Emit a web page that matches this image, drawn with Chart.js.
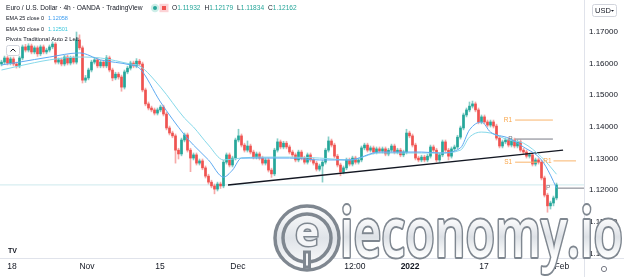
<!DOCTYPE html>
<html><head><meta charset="utf-8">
<script src="https://cdn.jsdelivr.net/npm/chart.js@4/dist/chart.umd.min.js"></script>
<style>html,body{margin:0;padding:0;background:#fff;overflow:hidden}canvas{display:block}</style>
</head><body>
<canvas id="c" width="624" height="277"></canvas>
<script>
// ---- data (EUR/USD 4h, candles indexed left to right) ----
const opens=[1.1598,1.1604,1.1617,1.1601,1.1614,1.1598,1.1592,1.1617,1.1652,1.1642,
1.1655,1.1636,1.1649,1.1630,1.1652,1.1636,1.1642,1.1652,1.1661,1.1604,
1.1611,1.1598,1.1620,1.1601,1.1617,1.1604,1.1674,1.1649,1.1547,1.1554,
1.1579,1.1604,1.1611,1.1592,1.1604,1.1592,1.1617,1.1579,1.1554,1.1566,
1.1557,1.1525,1.1573,1.1585,1.1601,1.1592,1.1607,1.1598,1.1516,1.1472,
1.1459,1.1453,1.1443,1.1453,1.1462,1.1440,1.1396,1.1380,1.1371,1.1326,
1.1314,1.1358,1.1374,1.1326,1.1301,1.1311,1.1285,1.1292,1.1270,1.1244,
1.1225,1.1213,1.1203,1.1219,1.1213,1.1288,1.1311,1.1279,1.1301,1.1358,
1.1371,1.1342,1.1326,1.1339,1.1320,1.1304,1.1314,1.1301,1.1285,1.1295,
1.1263,1.1251,1.1326,1.1352,1.1336,1.1348,1.1336,1.1320,1.1311,1.1295,
1.1320,1.1301,1.1288,1.1311,1.1295,1.1285,1.1266,1.1276,1.1288,1.1326,
1.1355,1.1342,1.1307,1.1279,1.1257,1.1270,1.1295,1.1282,1.1301,1.1288,
1.1295,1.1333,1.1342,1.1326,1.1333,1.1320,1.1330,1.1323,1.1330,1.1314,
1.1326,1.1339,1.1320,1.1326,1.1311,1.1320,1.1380,1.1371,1.1342,1.1301,
1.1295,1.1304,1.1295,1.1307,1.1336,1.1326,1.1295,1.1311,1.1352,1.1326,
1.1307,1.1330,1.1336,1.1367,1.1396,1.1437,1.1453,1.1465,1.1472,1.1453,
1.1415,1.1431,1.1415,1.1405,1.1415,1.1402,1.1364,1.1339,1.1352,1.1358,
1.1342,1.1358,1.1339,1.1352,1.1326,1.1320,1.1307,1.1311,1.1282,1.1295,
1.1288,1.1238,1.1184,1.1150,1.1159,1.1175];
const highs=[1.1610,1.1623,1.1623,1.1620,1.1620,1.1604,1.1623,1.1658,1.1660,1.1662,
1.1661,1.1655,1.1655,1.1658,1.1658,1.1648,1.1658,1.1668,1.1666,1.1617,
1.1617,1.1626,1.1626,1.1623,1.1623,1.1699,1.1690,1.1655,1.1562,1.1585,
1.1610,1.1617,1.1617,1.1610,1.1610,1.1625,1.1623,1.1585,1.1572,1.1572,
1.1563,1.1579,1.1591,1.1607,1.1607,1.1615,1.1613,1.1604,1.1522,1.1478,
1.1465,1.1459,1.1459,1.1468,1.1468,1.1446,1.1402,1.1386,1.1377,1.1332,
1.1364,1.1380,1.1380,1.1332,1.1317,1.1317,1.1298,1.1298,1.1276,1.1250,
1.1231,1.1219,1.1225,1.1225,1.1294,1.1317,1.1317,1.1307,1.1364,1.1392,
1.1377,1.1348,1.1355,1.1345,1.1326,1.1320,1.1320,1.1307,1.1301,1.1301,
1.1269,1.1332,1.1362,1.1358,1.1354,1.1354,1.1342,1.1326,1.1317,1.1326,
1.1326,1.1307,1.1317,1.1317,1.1301,1.1291,1.1282,1.1294,1.1332,1.1368,
1.1361,1.1348,1.1313,1.1285,1.1276,1.1301,1.1301,1.1307,1.1307,1.1301,
1.1339,1.1348,1.1348,1.1339,1.1339,1.1336,1.1336,1.1336,1.1336,1.1332,
1.1345,1.1345,1.1332,1.1332,1.1326,1.1392,1.1386,1.1377,1.1348,1.1307,
1.1310,1.1310,1.1313,1.1342,1.1342,1.1332,1.1317,1.1358,1.1358,1.1332,
1.1336,1.1342,1.1373,1.1402,1.1443,1.1459,1.1478,1.1481,1.1478,1.1459,
1.1437,1.1437,1.1421,1.1421,1.1421,1.1408,1.1370,1.1358,1.1364,1.1364,
1.1364,1.1364,1.1358,1.1358,1.1332,1.1326,1.1317,1.1317,1.1301,1.1301,
1.1294,1.1244,1.1190,1.1165,1.1181,1.1222];
const lows=[1.1592,1.1598,1.1595,1.1595,1.1592,1.1585,1.1586,1.1611,1.1636,1.1636,
1.1630,1.1630,1.1622,1.1624,1.1630,1.1630,1.1636,1.1646,1.1598,1.1598,
1.1592,1.1592,1.1595,1.1595,1.1598,1.1598,1.1643,1.1538,1.1540,1.1548,
1.1573,1.1598,1.1586,1.1586,1.1586,1.1586,1.1573,1.1545,1.1548,1.1550,
1.1512,1.1519,1.1567,1.1579,1.1586,1.1586,1.1592,1.1510,1.1466,1.1453,
1.1447,1.1437,1.1437,1.1447,1.1434,1.1390,1.1374,1.1365,1.1285,1.1298,
1.1308,1.1352,1.1320,1.1258,1.1295,1.1279,1.1279,1.1264,1.1238,1.1219,
1.1207,1.1188,1.1197,1.1205,1.1207,1.1282,1.1273,1.1273,1.1295,1.1352,
1.1336,1.1320,1.1320,1.1314,1.1298,1.1298,1.1295,1.1279,1.1279,1.1257,
1.1240,1.1245,1.1320,1.1330,1.1330,1.1330,1.1314,1.1305,1.1289,1.1289,
1.1295,1.1282,1.1282,1.1289,1.1279,1.1260,1.1260,1.1225,1.1282,1.1320,
1.1336,1.1301,1.1273,1.1245,1.1251,1.1264,1.1276,1.1276,1.1282,1.1282,
1.1289,1.1327,1.1320,1.1320,1.1314,1.1314,1.1317,1.1317,1.1308,1.1308,
1.1320,1.1314,1.1314,1.1305,1.1305,1.1314,1.1365,1.1336,1.1295,1.1289,
1.1289,1.1289,1.1289,1.1301,1.1320,1.1289,1.1289,1.1305,1.1320,1.1295,
1.1301,1.1324,1.1330,1.1361,1.1390,1.1431,1.1447,1.1459,1.1447,1.1409,
1.1409,1.1409,1.1399,1.1399,1.1396,1.1358,1.1333,1.1333,1.1346,1.1336,
1.1336,1.1333,1.1333,1.1320,1.1314,1.1301,1.1301,1.1276,1.1276,1.1282,
1.1232,1.1178,1.1130,1.1140,1.1150,1.1169];
const closes=[1.1604,1.1617,1.1601,1.1614,1.1598,1.1592,1.1617,1.1652,1.1642,1.1655,
1.1636,1.1649,1.1630,1.1652,1.1636,1.1642,1.1652,1.1661,1.1604,1.1611,
1.1598,1.1620,1.1601,1.1617,1.1604,1.1674,1.1649,1.1547,1.1554,1.1579,
1.1604,1.1611,1.1592,1.1604,1.1592,1.1617,1.1579,1.1554,1.1566,1.1557,
1.1525,1.1573,1.1585,1.1601,1.1592,1.1607,1.1598,1.1516,1.1472,1.1459,
1.1453,1.1443,1.1453,1.1462,1.1440,1.1396,1.1380,1.1371,1.1326,1.1314,
1.1358,1.1374,1.1326,1.1301,1.1311,1.1285,1.1292,1.1270,1.1244,1.1225,
1.1213,1.1203,1.1219,1.1213,1.1288,1.1311,1.1279,1.1301,1.1358,1.1371,
1.1342,1.1326,1.1339,1.1320,1.1304,1.1314,1.1301,1.1285,1.1295,1.1263,
1.1251,1.1326,1.1352,1.1336,1.1348,1.1336,1.1320,1.1311,1.1295,1.1320,
1.1301,1.1288,1.1311,1.1295,1.1285,1.1266,1.1276,1.1288,1.1326,1.1355,
1.1342,1.1307,1.1279,1.1257,1.1270,1.1295,1.1282,1.1301,1.1288,1.1295,
1.1333,1.1342,1.1326,1.1333,1.1320,1.1330,1.1323,1.1330,1.1314,1.1326,
1.1339,1.1320,1.1326,1.1311,1.1320,1.1380,1.1371,1.1342,1.1301,1.1295,
1.1304,1.1295,1.1307,1.1336,1.1326,1.1295,1.1311,1.1352,1.1326,1.1307,
1.1330,1.1336,1.1367,1.1396,1.1437,1.1453,1.1465,1.1472,1.1453,1.1415,
1.1431,1.1415,1.1405,1.1415,1.1402,1.1364,1.1339,1.1352,1.1358,1.1342,
1.1358,1.1339,1.1352,1.1326,1.1320,1.1307,1.1311,1.1282,1.1295,1.1288,
1.1238,1.1184,1.1150,1.1159,1.1175,1.1216];

const emaIdx=[0,6,16,26,33,43,46,53,61,64,69,74,77,80,86,96,106,116,126,140,146,153,156,160,163,169,174,180,183,185];
const ema25=[1.1595,1.1604,1.1620,1.1633,1.1611,1.1595,1.1585,1.1478,1.1374,1.1342,1.1295,1.1241,1.1263,1.1301,1.1301,1.1301,1.1295,1.1295,1.1320,1.1320,1.1317,1.1333,1.1390,1.1415,1.1383,1.1364,1.1336,1.1295,1.1247,1.1206];
const ema50=[1.1579,1.1592,1.1611,1.1620,1.1617,1.1598,1.1592,1.1525,1.1427,1.1399,1.1342,1.1295,1.1298,1.1301,1.1304,1.1304,1.1301,1.1295,1.1317,1.1317,1.1317,1.1326,1.1367,1.1383,1.1380,1.1358,1.1348,1.1304,1.1273,1.1250];

const trendIdx=[75.5,187.2];
const trendVals=[1.1216,1.1326];

const pivotNames=['R1','P','S1','R1','P'];
const pivotLevels=[1.1421,1.1361,1.1288,1.1292,1.1206];
const pivotFrom=[171.2,171.2,171.2,184.0,185.5];
const pivotTo=[183.8,183.8,178.5,191.5,194.2];
const pivotLabelAt=[168.8,169.6,168.9,182.0,182.2];

const lastPrice=1.12162;
const xTickPos=[3.5,28.5,52.8,78.8,117.8,136.2,160.8,186.8];
const xTickLabels=['18','Nov','15','Dec','12:00','2022','17','Feb'];
const yTicks=[1.10,1.11,1.12,1.13,1.14,1.15,1.16,1.17];

// ---- chart ----
const UP='#26a69a', DN='#ef5350';
const N=closes.length, idx=[...Array(N).keys()];
const isUp=i=>closes[i]>=opens[i];
const FONT='"Liberation Sans", Arial, sans-serif';
Chart.defaults.font.family=FONT;

const pivotSets=pivotNames.map((n,k)=>({
  type:'line', data:[{x:pivotFrom[k],y:pivotLevels[k]},{x:pivotTo[k],y:pivotLevels[k]}],
  borderColor:n==='P'?'#787b86':'#f9b46c', borderWidth:1, pointRadius:0, order:0
}));

const bg={id:'bg',beforeDraw(ch){const c=ch.ctx;c.save();c.fillStyle='#fff';c.fillRect(0,0,ch.width,ch.height);c.restore();}};

const deco={id:'deco',afterDatasetsDraw(ch){
  const c=ch.ctx, xs=ch.scales.x, ys=ch.scales.y;
  c.save();
  c.font='6.5px '+FONT; c.textAlign='center'; c.textBaseline='middle';
  pivotNames.forEach((n,k)=>{c.fillStyle=n==='P'?'#787b86':'#f9a64a';
    c.fillText(n,xs.getPixelForValue(pivotLabelAt[k]),ys.getPixelForValue(pivotLevels[k]));});
  c.strokeStyle='#e0e3eb'; c.lineWidth=1;
  c.beginPath(); c.moveTo(584.5,0); c.lineTo(584.5,277); c.moveTo(0,258.5); c.lineTo(624,258.5); c.stroke();
  c.textAlign='left'; c.textBaseline='middle';
  const fit=(t,x,y,w,col,weight)=>{c.font=(weight||'')+' 10px '+FONT;const m=c.measureText(t).width;c.font=(weight||'')+' '+(10*w/m).toFixed(2)+'px '+FONT;c.fillStyle=col;c.fillText(t,x,y);return c.measureText(t).width;};
  fit('Euro / U.S. Dollar · 4h · OANDA · TradingView',6,8,137,'#131722');
  c.fillStyle='#cdeee8'; c.beginPath(); c.arc(155,8,4.2,0,7); c.fill();
  c.fillStyle=UP; c.beginPath(); c.arc(155,8,2,0,7); c.fill();
  c.fillStyle='#fcd3d6'; c.fillRect(159.5,3.8,9,8.4);
  c.fillStyle=DN; c.fillRect(162,6,4,4);
  c.font='6.6px '+FONT; let x=172;
  [['O','1.11932'],['H','1.12179'],['L','1.11834'],['C','1.12162']].forEach(([a,b])=>{
    c.fillStyle='#131722'; c.fillText(a,x,8); x+=c.measureText(a).width;
    c.fillStyle=UP; c.fillText(b,x,8); x+=c.measureText(b).width+4;});
  fit('EMA 25 close 0',6,18.5,38,'#131722');
  fit('1.12058',48,18.5,20,'#3d9df0');
  fit('EMA 50 close 0',6,29,38,'#131722');
  fit('1.12501',48,29,20,'#3cc7dc');
  fit('Pivots Traditional Auto 2 Left',6,39.5,73,'#131722');
  c.fillStyle='rgba(255,255,255,0.9)'; c.strokeStyle='#d1d4dc'; c.lineWidth=1;
  c.beginPath(); c.roundRect(6.5,45.5,13,10,2); c.fill(); c.stroke();
  c.strokeStyle='#131722'; c.beginPath(); c.moveTo(10.5,51.5); c.lineTo(13,49); c.lineTo(15.5,51.5); c.stroke();
  c.fillStyle='#fff'; c.strokeStyle='#d1d4dc';
  c.beginPath(); c.roundRect(592.5,4.5,24,12,2); c.fill(); c.stroke();
  c.font='7.5px '+FONT; c.fillStyle='#131722'; c.fillText('USD',595,10.8);
  c.beginPath(); c.moveTo(611,10); c.lineTo(614,10); c.lineTo(612.5,11.8); c.closePath(); c.fill();
  c.font='bold 7px '+FONT; c.fillStyle='#131722'; c.fillText('TV',8,251);
  c.strokeStyle='#787b86'; c.lineWidth=1; c.beginPath(); c.arc(604,269,2.6,0,7); c.stroke();
  c.restore();
}};

const wm={id:'wm',afterDraw(ch){
  const c=ch.ctx; c.save();
  const cx=307, cy=238;
  const g=c.createLinearGradient(0,cy-33,0,cy+33);
  g.addColorStop(0,'#ffffff'); g.addColorStop(0.5,'#dfe3e8'); g.addColorStop(1,'#ffffff');
  c.lineWidth=3.5; c.strokeStyle='#7f8790'; c.fillStyle=g;
  c.beginPath(); c.arc(cx,cy,32,0,7); c.fill(); c.stroke();
  c.beginPath(); c.arc(cx,cy,24,0,7); c.stroke();
  c.font='bold 40px "Open Sans", '+FONT; c.textAlign='center'; c.textBaseline='middle';
  c.lineWidth=3; c.strokeText('e',cx,cy-3); c.fillStyle='#f4f5f7'; c.fillText('e',cx,cy-3);
  c.fillRect(cx-2.5,cy+14,5,15); c.strokeRect(cx-2.5,cy+14,5,15);
  c.textAlign='left'; c.textBaseline='alphabetic';
  c.font='600 68px "Open Sans", '+FONT;
  const t='ieconomy.io', w=c.measureText(t).width;
  c.translate(340,257); c.scale(283/w,1);
  const g2=c.createLinearGradient(0,-40,0,0);
  g2.addColorStop(0,'#ffffff'); g2.addColorStop(0.5,'#dde1e6'); g2.addColorStop(1,'#ffffff');
  c.lineWidth=4; c.strokeStyle='#7f8790'; c.lineJoin='round'; c.strokeText(t,0,0);
  c.fillStyle=g2; c.fillText(t,0,0);
  c.restore();
}};

new Chart(document.getElementById('c'),{
  type:'bar',
  data:{datasets:[
    {type:'line',data:emaIdx.map((x,k)=>({x,y:ema25[k]})),borderColor:'#5eaaf2',borderWidth:1,pointRadius:0,cubicInterpolationMode:'monotone',order:0},
    {type:'line',data:emaIdx.map((x,k)=>({x,y:ema50[k]})),borderColor:'#86d9ea',borderWidth:1,pointRadius:0,cubicInterpolationMode:'monotone',order:0},
    {type:'line',data:trendIdx.map((x,k)=>({x,y:trendVals[k]})),borderColor:'#131722',borderWidth:1.4,pointRadius:0,order:0},
    ...pivotSets,
    {type:'bar',data:idx.map(i=>({x:i,y:[opens[i],closes[i]]})),backgroundColor:idx.map(i=>isUp(i)?UP:DN),
      barThickness:2,grouped:false,minBarLength:1,borderWidth:0,order:1},
    {type:'bar',data:idx.map(i=>({x:i,y:[lows[i],highs[i]]})),backgroundColor:idx.map(i=>isUp(i)?'rgba(38,166,154,0.55)':'rgba(239,83,80,0.5)'),
      barThickness:1,grouped:false,borderWidth:0,order:2},
    {type:'line',data:[{x:-0.5,y:lastPrice},{x:194.2,y:lastPrice}],borderColor:'#cde9ed',borderWidth:1,pointRadius:0,order:3}
  ]},
  options:{
    responsive:false,devicePixelRatio:1,animation:false,
    layout:{padding:0},
    plugins:{legend:{display:false},tooltip:{enabled:false}},
    scales:{
      x:{type:'linear',min:-0.5,max:194.167,offset:false,
        grid:{display:false,drawTicks:false},border:{display:false},
        afterBuildTicks:s=>{s.ticks=xTickPos.map(v=>({value:v}));},
        afterFit:s=>{s.height=19;s.paddingLeft=0;s.paddingRight=0;},
        ticks:{autoSkip:false,maxRotation:0,padding:4,color:'#131722',
          font:ctx=>({size:8.5,family:FONT,weight:(ctx.tick&&ctx.tick.label==='2022')?'bold':'normal'}),
          callback:(v,i)=>xTickLabels[i]}},
      y:{type:'linear',position:'right',min:1.09854,max:1.18001,
        grid:{display:false,drawTicks:false},border:{display:false},
        afterBuildTicks:s=>{s.ticks=yTicks.map(v=>({value:v}));},
        afterFit:s=>{s.width=40;s.paddingTop=0;s.paddingBottom=0;},
        ticks:{padding:5,color:'#131722',font:{size:8,family:FONT},callback:v=>Number(v).toFixed(5)}}
    }
  },
  plugins:[bg,deco,wm]
});
</script>
</body></html>
